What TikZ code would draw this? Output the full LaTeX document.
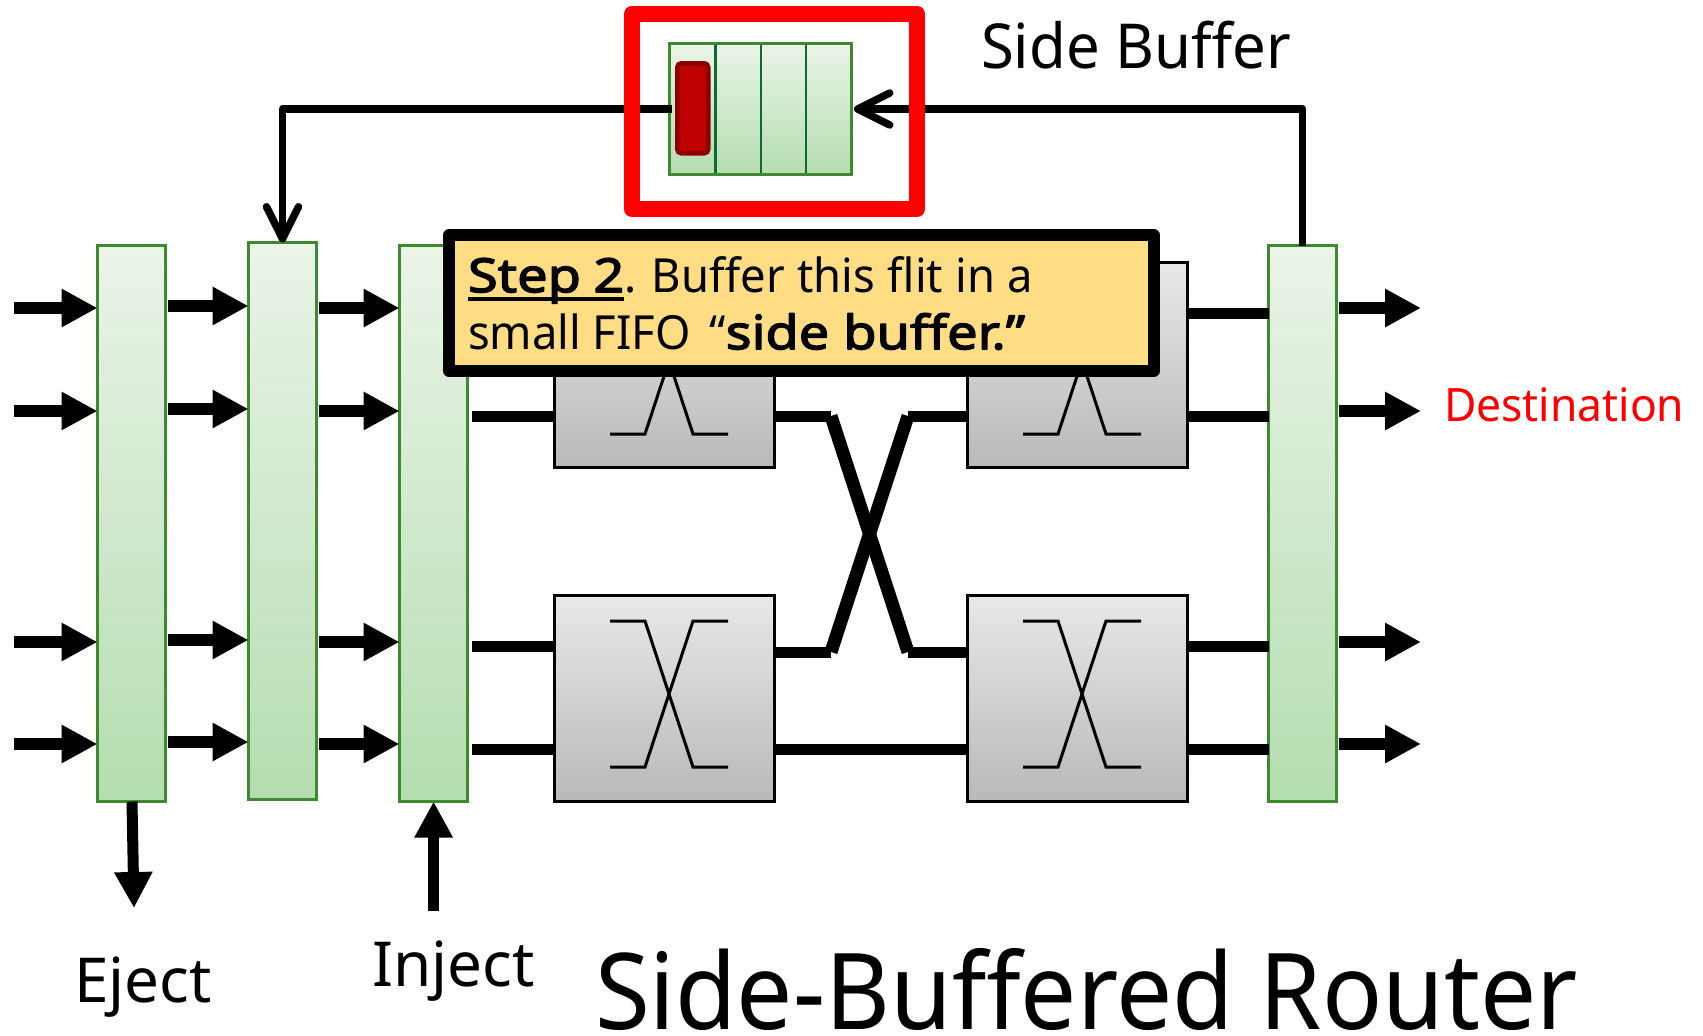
\documentclass[tikz,border=0pt]{standalone}
\usepackage{fontspec}
\setmainfont{Noto Sans}[BoldFont={Noto Sans},BoldFeatures={FakeBold=3}]
\newfontfamily\narrowa{Noto Sans}[FakeStretch=0.965,BoldFont={Noto Sans},BoldFeatures={FakeStretch=1.15,FakeBold=3}]
\newfontfamily\narrowb{Noto Sans}[FakeStretch=0.942]
\usetikzlibrary{arrows.meta}
\definecolor{colbd}{HTML}{3F8A30}
\definecolor{coltop}{HTML}{EBF4E8}
\definecolor{colbot}{HTML}{B4DDB0}
\definecolor{divgr}{HTML}{0B6B35}
\definecolor{calloutfill}{HTML}{FFDD85}
\newcommand{\fs}[1]{\fontsize{#1}{#1}\selectfont}
\newcommand{\stepword}{\setbox0\hbox{\bfseries Step 2}\rlap{\rule[-9pt]{\wd0}{4.5pt}}\box0}
\tikzset{
  x=1pt,y=-1pt,
  colbox/.style={draw=colbd,line width=3pt,top color=coltop,bottom color=colbot,minimum width=68pt,inner sep=0pt,outer sep=0pt,anchor=north west},
  xbox/.style={draw=black,line width=3pt,top color=gray!18,bottom color=gray!55,minimum width=220.5pt,inner sep=0pt,outer sep=0pt,anchor=north west},
  thick arrow/.style={line width=12pt,-{Triangle[length=36pt,width=36pt]}},
  wire/.style={line width=11pt},
  crosswire/.style={line width=13pt},
  glyph/.style={line width=3pt},
  loopwire/.style={line width=7.5pt,line join=round},
  label/.style={anchor=base west,inner sep=0pt,outer sep=0pt},
}
\begin{document}
\begin{tikzpicture}
\useasboundingbox (0,0) rectangle (1703,1036);
% columns
\node[colbox,minimum height=556pt] (c1) at (97.5,245.5) {};
\node[colbox,minimum height=557pt] (c2) at (248.5,242.5) {};
\node[colbox,minimum height=556pt] (c3) at (399.5,245.5) {};
\node[colbox,minimum height=556pt] (c4) at (1268.5,245.5) {};
% crossbar boxes
\node[xbox,minimum height=205pt] (b1) at (554,262) {};
\node[xbox,minimum height=205pt] (b2) at (967,262) {};
\node[xbox,minimum height=206pt] (b3) at (554,595) {};
\node[xbox,minimum height=206pt] (b4) at (967,595) {};
% glyphs
\foreach \bx/\by in {554/262,967/262,554/595,967/595}{
  \draw[glyph] (\bx+56,\by+26) -- (\bx+91,\by+26) -- (\bx+139,\by+172) -- (\bx+174,\by+172);
  \draw[glyph] (\bx+56,\by+172) -- (\bx+91,\by+172) -- (\bx+139,\by+26) -- (\bx+174,\by+26);
}
% wires
\coordinate (cl1) at (831,416);
\coordinate (cl2) at (831,652);
\coordinate (cr1) at (908,416);
\coordinate (cr2) at (908,652);
\draw[wire] (472,416) -- (b1.west |- 0,416);
\draw[wire] (472,646.5) -- (b3.west |- 0,646.5);
\draw[wire] (472,749) -- (b3.west |- 0,749);
\draw[wire] (b3.east |- 0,749) -- (b4.west |- 0,749);
\draw[wire] (b1.east |- 0,416) -- (cl1);
\draw[wire] (cr2) -- (b4.west |- 0,652);
\draw[wire] (b3.east |- 0,652) -- (cl2);
\draw[wire] (cr1) -- (b2.west |- 0,416);
\draw[crosswire] (cl1) -- (cr2);
\draw[crosswire] (cl2) -- (cr1);
\foreach \yy in {313,416}{\draw[wire] (b2.east |- 0,\yy) -- (c4.west |- 0,\yy);}
\foreach \yy in {646.5,749}{\draw[wire] (b4.east |- 0,\yy) -- (c4.west |- 0,\yy);}
% arrows
\foreach \yy in {308,411,642,744}{
  \coordinate (in\yy) at (14,\yy);
  \coordinate (out\yy) at (1421,\yy);
  \draw[thick arrow] (in\yy) -- (c1.west |- 0,\yy);
  \draw[thick arrow] ([xshift=2pt]c2.east |- 0,\yy) -- (c3.west |- 0,\yy);
  \draw[thick arrow] ([xshift=2pt]c4.east |- 0,\yy) -- (out\yy);
}
\foreach \yy in {306,409,640,742}{
  \draw[thick arrow] ([xshift=2pt]c1.east |- 0,\yy) -- (c2.west |- 0,\yy);
}
\coordinate (ej) at (134,908);
\coordinate (inj) at (433.6,911);
\draw[thick arrow,line width=11pt] (c1.south -| 132,0) -- (ej);
\draw[thick arrow,line width=11pt] (inj) -- (c3.south -| 433.6,0);
% side buffer
\node[draw=colbd,line width=3pt,top color=coltop,bottom color=colbot,minimum width=182pt,minimum height=131pt,inner sep=0pt,outer sep=0pt,anchor=north west] (buf) at (669,43.5) {};
\foreach \xx in {715.5,761,806}{\draw[divgr,line width=2.5pt] (\xx,45) -- (\xx,173);}
\node[draw=black!45!red,fill=black!25!red,line width=4.5pt,rounded corners=4pt,minimum width=31pt,minimum height=90pt,inner sep=0pt,anchor=north west] (flit) at (675,61) {};
\draw[loopwire] ([xshift=3pt]buf.west) -- (282.5,109) -- (282.5,225);
\draw[loopwire,-{Straight Barb[length=32pt,width=32pt,round]}] (c4.north) -- (1302.5,109) -- ([xshift=3pt]buf.east);
\draw[loopwire,-{Straight Barb[length=32pt,width=32pt,round]}] (282.5,200) -- (c2.north);
\node[draw=red,line width=16pt,line join=round,minimum width=285pt,minimum height=195pt,inner sep=0pt,outer sep=0pt,anchor=north west] (sb) at (632,14) {};
% callout
\node[draw=black,fill=calloutfill,line width=11.5pt,line join=round,minimum width=705pt,minimum height=136pt,inner sep=0pt,outer sep=0pt,anchor=north west,text width=667pt,align=left,font=\narrowa\fontsize{47}{57}\selectfont] (co) at (449,235) {\spaceskip=12.5pt\stepword.\kern-8pt{} Buffer this flit in a\\\spaceskip=0pt small FIFO\kern7pt{} “\textbf{side buffer.”}};
% labels
\node[label,font=\narrowa\fs{62}] (t1) at (981,68) {Side Buffer};
\node[label,font=\narrowa\fs{46},text=red] (t2) at (1444,421) {Destination};
\node[label,font=\fs{62}] (t3) at (74,1002) {Eject};
\node[label,font=\fs{62}] (t4) at (372,986) {Inject};
\node[label,font=\narrowb\fs{106}] (t5) at (595,1029) {Side-Buffered Router};
\end{tikzpicture}
\end{document}
